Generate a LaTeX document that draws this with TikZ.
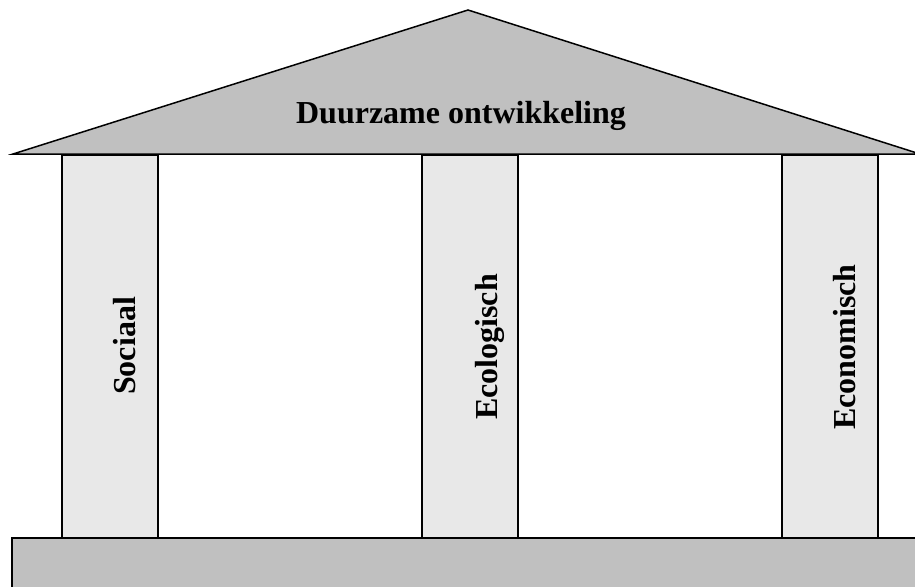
\documentclass[tikz,border=0pt]{standalone}
\usepackage{fontspec}
\setmainfont{Liberation Serif}
\definecolor{roofgray}{HTML}{C0C0C0}
\definecolor{pillargray}{HTML}{E8E8E8}
\begin{document}
\begin{tikzpicture}[x=1pt,y=-1pt,
  pillar/.style={draw=black, line width=1.5pt, fill=pillargray, minimum width=96pt, minimum height=384pt, inner sep=0pt, anchor=north west},
  slab/.style={draw=black, line width=1.5pt, fill=roofgray, line join=miter},
  lbl/.style={font=\bfseries\fontsize{32}{38}\selectfont, inner sep=0pt}
  ]
\useasboundingbox (0,0) rectangle (915,586);
\clip (0,0) rectangle (915,586);
% pillars
\node[pillar] (p1) at (61,154) {};
\node[pillar] (p2) at (421,154) {};
\node[pillar] (p3) at (781,154) {};
% roof
\draw[slab] (13,154) coordinate (rl) -- (468,10) coordinate (apex) -- (920,154) coordinate (rr) -- cycle;
% base
\draw[slab] (12,538) coordinate (bl) rectangle (930,600) coordinate (br);
% labels
\node[lbl, anchor=base] (title) at (461,123) {Duurzame ontwikkeling};
\node[lbl, rotate=90, anchor=base] (t1) at (135,346) {Sociaal};
\node[lbl, rotate=90, anchor=base] (t2) at (497,347) {Ecologisch};
\node[lbl, rotate=90, anchor=base] (t3) at (855,347) {Economisch};
\end{tikzpicture}
\end{document}
